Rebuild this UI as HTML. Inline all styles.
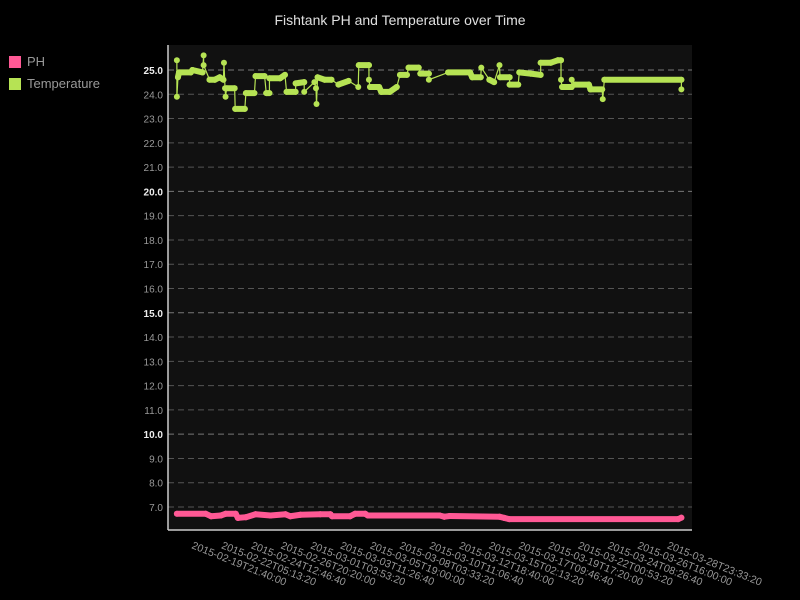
<!DOCTYPE html>
<html><head><meta charset="utf-8"><style>
body{margin:0;background:#000;}
svg{display:block;font-family:"Liberation Sans","DejaVu Sans",sans-serif;}
</style></head><body>
<svg id="chart" width="800" height="600" xmlns="http://www.w3.org/2000/svg">
<rect width="800" height="600" fill="#000"/>
<text x="400" y="25" text-anchor="middle" fill="#e0e0e0" font-size="14">Fishtank PH and Temperature over Time</text>
<g>
<g><rect x="9" y="56" width="12" height="12" fill="#ff5995"/><text x="27" y="66" fill="#999" font-size="13">PH</text></g>
<g><rect x="9" y="78" width="12" height="12" fill="#b6e354"/><text x="27" y="88" fill="#999" font-size="13">Temperature</text></g>
</g>
<rect x="168" y="45" width="524" height="485" fill="#111"/>
<g id="grid"></g>
<g id="xlabels"></g>
<g id="series"></g>
<line x1="168" y1="45" x2="168" y2="530" stroke="#ccc" stroke-width="1.5"/>
<line x1="168" y1="530" x2="692" y2="530" stroke="#ccc" stroke-width="1.5"/>
</svg>
<script>
const yTicks=[7,8,9,10,11,12,13,14,15,16,17,18,19,20,21,22,23,24,25];
const xTickLabels=["2015-02-19T21:40:00","2015-02-22T05:13:20","2015-02-24T12:46:40","2015-02-26T20:20:00","2015-03-01T03:53:20","2015-03-03T11:26:40","2015-03-05T19:00:00","2015-03-08T03:33:20","2015-03-10T11:06:40","2015-03-12T18:40:00","2015-03-15T02:13:20","2015-03-17T09:46:40","2015-03-19T17:20:00","2015-03-22T00:53:20","2015-03-24T08:26:40","2015-03-26T16:00:00","2015-03-28T23:33:20"];
const xTickHours=[0,55.56,111.11,166.67,222.22,277.78,333.33,388.89,444.44,500,555.56,611.11,666.67,722.22,777.78,833.33,888.89];
const tempHours=[-32,-32,-30,-28,-6,-3,16,18,18,29,39,48,55,56,58,59,61,76,77,95,97,113,115,132,135,141,141,161,170,173,190,190,206,206,225,228,229,231,244,257,270,289,307,308,327,327,329,346,350,366,379,385,398,401,420,423,439,439,475,516,520,536,537,552,561,571,572,590,590,606,608,629,648,648,667,680,686,686,688,706,706,712,738,741,763,764,767,911,911];
const tempValues=[25.4,23.9,24.7,24.9,24.9,25.0,24.9,25.6,25.2,24.6,24.6,24.7,24.6,25.3,24.25,23.9,24.25,24.25,23.4,23.4,24.05,24.05,24.75,24.75,24.05,24.05,24.66,24.66,24.8,24.1,24.1,24.45,24.5,24.1,24.5,24.25,23.6,24.7,24.6,24.6,24.4,24.55,24.3,25.2,25.2,24.6,24.3,24.3,24.1,24.1,24.3,24.8,24.8,25.1,25.1,24.85,24.85,24.6,24.9,24.9,24.7,24.7,25.1,24.6,24.5,25.2,24.7,24.7,24.4,24.4,24.9,24.85,24.8,25.3,25.3,25.4,25.4,24.6,24.3,24.3,24.6,24.4,24.4,24.2,24.2,23.8,24.6,24.6,24.2];
const phHours=[-32,22,32,50,59,78,82,97,115,143,171,180,199,236,255,258,292,301,320,325,459,468,478,571,580,589,905,911];
const phValues=[6.72,6.72,6.62,6.65,6.72,6.72,6.55,6.58,6.7,6.65,6.7,6.62,6.68,6.7,6.7,6.62,6.62,6.72,6.72,6.65,6.65,6.6,6.63,6.6,6.55,6.5,6.5,6.56];

const NS="http://www.w3.org/2000/svg";
function yScale(v){return 70+(25-v)*(437/18);}
function xScale(h){return 194+h*0.535;}
const grid=document.getElementById('grid');
yTicks.forEach(v=>{
  const y=yScale(v);
  const major=(v%5===0);
  const l=document.createElementNS(NS,'line');
  
  
  l.setAttribute('x1',168);l.setAttribute('x2',692);l.setAttribute('y1',y);l.setAttribute('y2',y);
  l.setAttribute('stroke',major?'#777':'#555');l.setAttribute('stroke-dasharray','6,4');
  grid.appendChild(l);
  const t=document.createElementNS(NS,'text');
  
  
  t.setAttribute('x',163);t.setAttribute('y',y+4);t.setAttribute('text-anchor','end');
  t.setAttribute('font-size','10');t.setAttribute('fill',major?'#eee':'#999');
  if(major)t.setAttribute('font-weight','bold');
  t.textContent=v.toFixed(1);grid.appendChild(t);
});
const xl=document.getElementById('xlabels');
xTickLabels.forEach((s,i)=>{
  const x=xScale(xTickHours[i])-3;
  const t=document.createElementNS(NS,'text');
  
  
  t.setAttribute('x',x);t.setAttribute('y',548);t.setAttribute('font-size','10.5');t.setAttribute('fill','#999');
  t.setAttribute('transform','rotate(22 '+x+' 548)');
  t.textContent=s;xl.appendChild(t);
});
const ser=document.getElementById('series');
function drawSeries(hours,vals,color,name){
  const g=document.createElementNS(NS,'g');
  
  
  const pts=hours.map((h,i)=>xScale(h)+','+yScale(vals[i])).join(' ');
  const pl=document.createElementNS(NS,'polyline');
  
  
  pl.setAttribute('points',pts);pl.setAttribute('fill','none');pl.setAttribute('stroke',color);pl.setAttribute('stroke-width','1.2');
  g.appendChild(pl);
  for(let i=1;i<hours.length;i++){
    if(Math.abs(vals[i]-vals[i-1])<0.2){
      const l=document.createElementNS(NS,'line');
      
      
      l.setAttribute('x1',xScale(hours[i-1]));l.setAttribute('y1',yScale(vals[i-1]));
      l.setAttribute('x2',xScale(hours[i]));l.setAttribute('y2',yScale(vals[i]));
      l.setAttribute('stroke',color);l.setAttribute('stroke-width','6');l.setAttribute('stroke-linecap','round');
      g.appendChild(l);
    }
  }
  hours.forEach((h,i)=>{
    const c=document.createElementNS(NS,'circle');
    
    
    c.setAttribute('cx',xScale(h));c.setAttribute('cy',yScale(vals[i]));c.setAttribute('r',3);c.setAttribute('fill',color);
    g.appendChild(c);
  });
  ser.appendChild(g);
}
drawSeries(phHours,phValues,'#ff5995','ph-series');
drawSeries(tempHours,tempValues,'#b6e354','temperature-series');
</script>
</body></html>
